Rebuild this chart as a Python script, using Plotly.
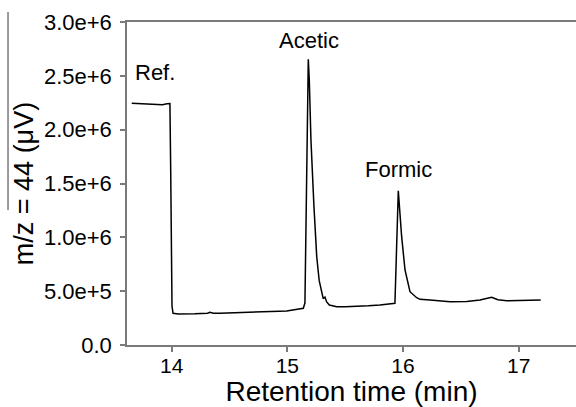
import plotly.graph_objects as go

# Retention time (min) and m/z=44 signal (µV)
time_min = [13.655, 13.75, 13.85, 13.92, 13.96, 13.985, 13.992, 13.998, 14.003, 14.012,
            14.058, 14.2, 14.31, 14.331, 14.36, 14.418, 14.5, 14.649, 14.8, 14.87,
            14.893, 14.93, 14.994, 15.06, 15.109, 15.138, 15.152, 15.181, 15.19, 15.204,
            15.23, 15.254, 15.275, 15.291, 15.31, 15.325, 15.34, 15.363, 15.427, 15.5,
            15.57, 15.7, 15.8, 15.93, 15.959, 15.988, 16.017, 16.06, 16.118, 16.146,
            16.233, 16.406, 16.55, 16.665, 16.766, 16.82, 16.896, 17.0, 17.19]
signal = [2.245e6, 2.24e6, 2.238e6, 2.232e6, 2.24e6, 2.242e6, 1.6e6, 8.0e5, 3.6e5, 2.95e5,
          2.88e5, 2.9e5, 2.95e5, 3.04e5, 2.96e5, 2.94e5, 2.98e5, 3.04e5, 3.08e5, 3.15e5,
          3.19e5, 3.14e5, 3.16e5, 3.25e5, 3.34e5, 3.41e5, 3.9e5, 2.654e6, 2.45e6, 1.904e6,
          1.285e6, 8.2e5, 6.0e5, 5.11e5, 4.3e5, 4.45e5, 4.0e5, 3.72e5, 3.56e5, 3.55e5,
          3.56e5, 3.64e5, 3.72e5, 3.87e5, 1.433e6, 1.006e6, 6.97e5, 4.95e5, 4.39e5, 4.24e5,
          4.18e5, 4.02e5, 4.05e5, 4.18e5, 4.43e5, 4.2e5, 4.11e5, 4.15e5, 4.18e5]

y_tick_vals = [0, 5e5, 1e6, 1.5e6, 2e6, 2.5e6, 3e6]
y_tick_text = ["0.0", "5.0e+5", "1.0e+6", "1.5e+6", "2.0e+6", "2.5e+6", "3.0e+6"]
x_tick_vals = [14, 15, 16, 17]

peak_labels = ["Ref.", "Acetic", "Formic"]
label_x = [13.666, 15.187, 15.965]
label_y = [2.53e6, 2.83e6, 1.63e6]

FONT = "Liberation Sans, Arial, sans-serif"
AXC = "#7a7a7a"

fig = go.Figure()
fig.add_trace(go.Scatter(x=time_min, y=signal, mode="lines",
                         line=dict(color="black", width=1.5), hoverinfo="skip"))

for txt, x, y in zip(peak_labels, label_x, label_y):
    fig.add_annotation(x=x, y=y, text=txt, showarrow=False,
                       xanchor="left" if txt == "Ref." else "center", yanchor="middle",
                       font=dict(family=FONT, size=22, color="black"))

# stray vertical rule at the far left of the original figure
fig.add_shape(type="line", xref="paper", yref="paper",
              x0=-0.265, x1=-0.265, y0=1.031, y1=0.418,
              line=dict(color=AXC, width=1.5))

fig.update_layout(
    width=576, height=407,
    margin=dict(l=127, r=0, t=22, b=62),
    paper_bgcolor="white", plot_bgcolor="white",
    showlegend=False,
    font=dict(family=FONT, color="black"),
    xaxis=dict(range=[13.614, 17.495], tickvals=x_tick_vals,
               showline=True, linecolor=AXC, linewidth=1.5, mirror=True,
               ticks="outside", ticklen=5, tickcolor=AXC, tickwidth=1.5,
               ticklabelstandoff=-4,
               showgrid=False, zeroline=False,
               tickfont=dict(family=FONT, size=21, color="black"),
               title=dict(text="Retention time (min)", standoff=0,
                          font=dict(family=FONT, size=28, color="black"))),
    yaxis=dict(range=[0, 3e6], tickvals=y_tick_vals, ticktext=y_tick_text,
               showline=True, linecolor=AXC, linewidth=1.5,
               ticks="outside", ticklen=5, tickcolor=AXC, tickwidth=1.5,
               ticklabelstandoff=4,
               showgrid=False, zeroline=False,
               tickfont=dict(family=FONT, size=22, color="black"),
               title=dict(text="m/z = 44 (μV)", standoff=2,
                          font=dict(family=FONT, size=27, color="black"))),
)

fig.write_html("out.html", config={"displayModeBar": False},
               post_script="document.body.style.margin='0px';")
